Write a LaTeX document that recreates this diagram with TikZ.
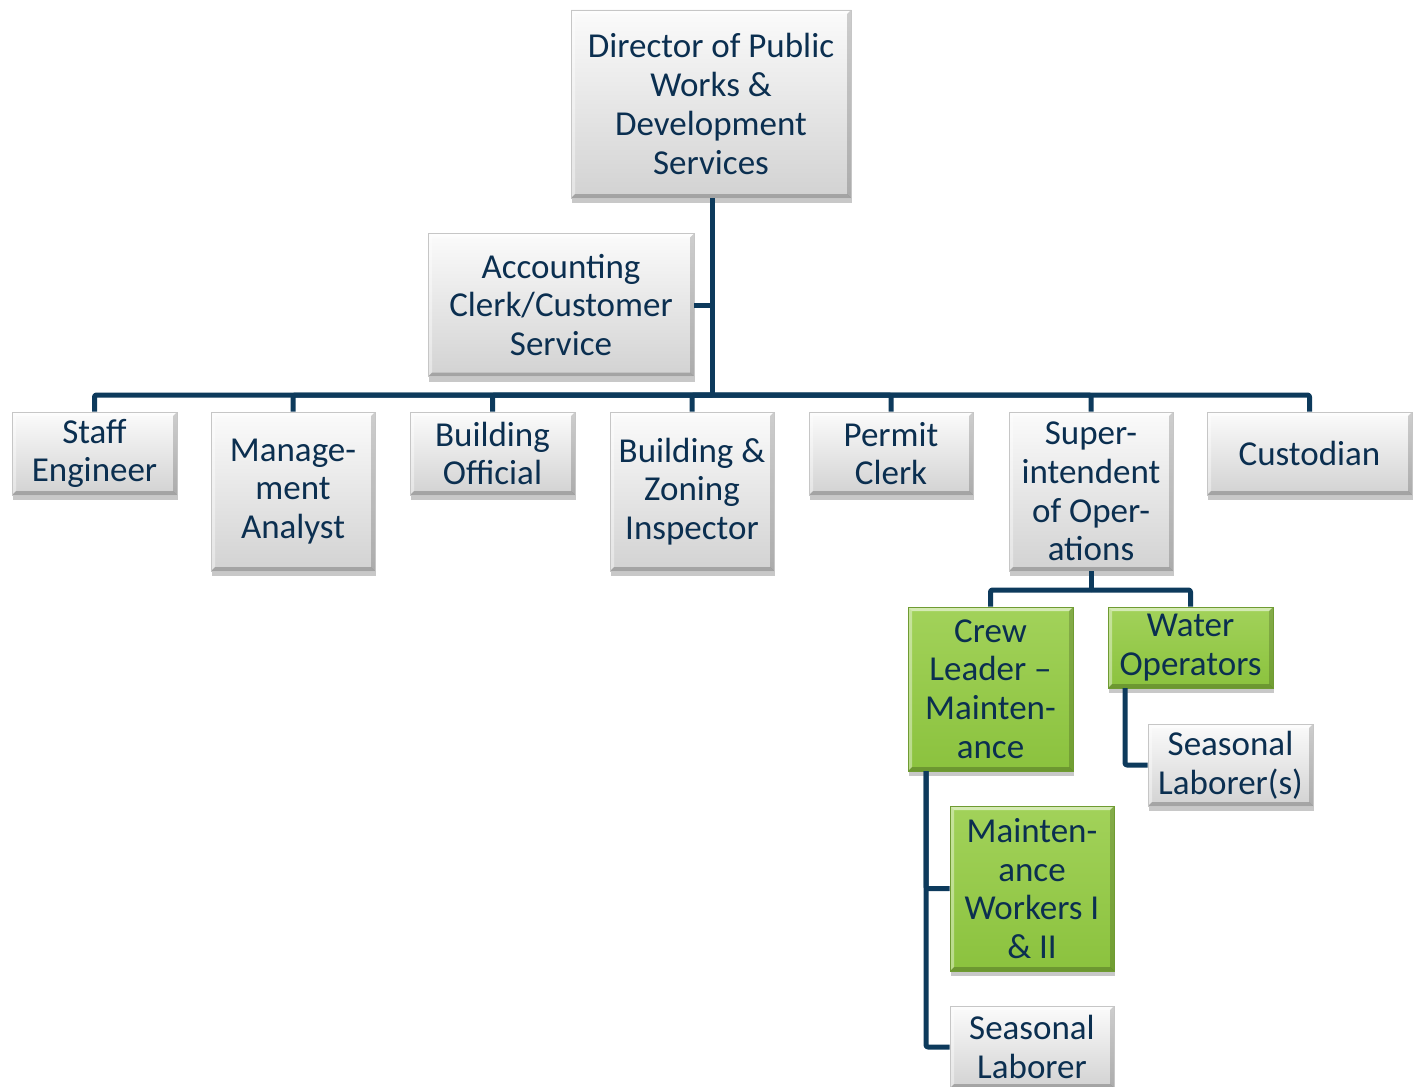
\documentclass[tikz,border=0pt]{standalone}
\usepackage{fontspec}
\setmainfont{Carlito}
\usetikzlibrary{shadows,calc}
\definecolor{txt}{HTML}{0B2F50}
\definecolor{conn}{HTML}{0D3A5C}
\definecolor{gtop}{HTML}{FBFBFB}
\definecolor{gbot}{HTML}{D2D2D2}
\definecolor{ntop}{HTML}{A2D25A}
\definecolor{nbot}{HTML}{8BC23E}
\tikzset{
  bevel/.style={path picture={
    \fill[white,opacity=0.55] (path picture bounding box.north west) -- (path picture bounding box.north east)
      -- ([xshift=-4pt,yshift=-4pt]path picture bounding box.north east) -- ([xshift=4pt,yshift=-4pt]path picture bounding box.north west) -- cycle;
    \fill[white,opacity=0.4] (path picture bounding box.north west) -- (path picture bounding box.south west)
      -- ([xshift=4pt,yshift=4pt]path picture bounding box.south west) -- ([xshift=4pt,yshift=-4pt]path picture bounding box.north west) -- cycle;
    \fill[black,opacity=0.18] (path picture bounding box.north east) -- (path picture bounding box.south east)
      -- ([xshift=-4pt,yshift=4pt]path picture bounding box.south east) -- ([xshift=-4pt,yshift=-4pt]path picture bounding box.north east) -- cycle;
    \fill[black,opacity=0.22] (path picture bounding box.south west) -- (path picture bounding box.south east)
      -- ([xshift=-4pt,yshift=4pt]path picture bounding box.south east) -- ([xshift=4pt,yshift=4pt]path picture bounding box.south west) -- cycle;
  }},
  box/.style={rectangle, inner sep=0pt, align=center, text=txt,
    font=\fontsize{35}{38.7}\selectfont,
    top color=gtop, bottom color=gbot, draw=gray!45, line width=0.6pt,
    drop shadow={shadow xshift=1pt, shadow yshift=-5pt, opacity=0.3, fill=black!70},
    bevel},
  gbox/.style={box, top color=ntop, bottom color=nbot, draw=nbot!80!black},
  conn/.style={draw=conn, line width=5pt, line join=round, rounded corners=2pt},
}
\begin{document}
\begin{tikzpicture}[x=1pt,y=-1pt]
\useasboundingbox (0,0) rectangle (1420,1086);
\fill[white] (0,0) rectangle (1420,1086);
% top level
\node[box, minimum width=280pt, minimum height=188pt] (dir) at (711,104) {Director of Public\\Works \&\\Development\\Services};
\node[box, minimum width=266pt, minimum height=143pt] (acc) at (561,305) {Accounting\\Clerk/Customer\\Service};
% second level
\node[box, minimum width=165pt, minimum height=83pt] (se) at (94.5,453.5) {Staff\\Engineer};
\node[box, minimum width=164pt, minimum height=159pt] (ma) at (293,491.5) {Manage-\\ment\\Analyst};
\node[box, minimum width=165pt, minimum height=83pt] (bo) at (492.5,453.5) {Building\\Official};
\node[box, minimum width=164pt, minimum height=159pt] (bz) at (692,491.5) {Building \&\\Zoning\\Inspector};
\node[box, minimum width=164pt, minimum height=83pt] (pc) at (891,453.5) {Permit\\Clerk};
\node[box, minimum width=164pt, minimum height=159pt] (su) at (1091,491.5) {Super-\\intendent\\of Oper-\\ations};
\node[box, minimum width=205pt, minimum height=83pt] (cu) at (1309.5,453.5) {Custodian};
% third level
\node[gbox, minimum width=165pt, minimum height=164pt] (cl) at (990.5,689) {Crew\\Leader –\\Mainten-\\ance};
\node[gbox, minimum width=165pt, minimum height=81pt] (wo) at (1190.5,647.5) {Water\\Operators};
\node[box, minimum width=165pt, minimum height=82pt] (sl1) at (1230.5,765) {Seasonal\\Laborer(s)};
\node[gbox, minimum width=164pt, minimum height=165pt] (mw) at (1032,888.5) {Mainten-\\ance\\Workers I\\\& II};
\node[box, minimum width=164pt, minimum height=82pt] (sl2) at (1032,1047) {Seasonal\\Laborer};
% bus coordinates
\coordinate (bus) at (712,395);
\coordinate (sbus) at (1091,590);
\coordinate (wod) at (1125,688);
\coordinate (cld) at (926,771);
% connectors
\draw[conn] (dir.south -| bus) -- (bus);
\draw[conn] (acc.east) -- (acc.east -| bus);
\foreach \n in {se,ma,bo,bz,pc,su,cu} { \draw[conn] (\n.north) |- (bus); }
\draw[conn] (su.south) -- (sbus);
\draw[conn] (cl.north) |- (sbus);
\draw[conn] (wo.north) |- (sbus);
\draw[conn] (wod) |- (sl1.west);
\draw[conn] (cld) |- (mw.west);
\draw[conn] (cld) |- (sl2.west);
\end{tikzpicture}
\end{document}
